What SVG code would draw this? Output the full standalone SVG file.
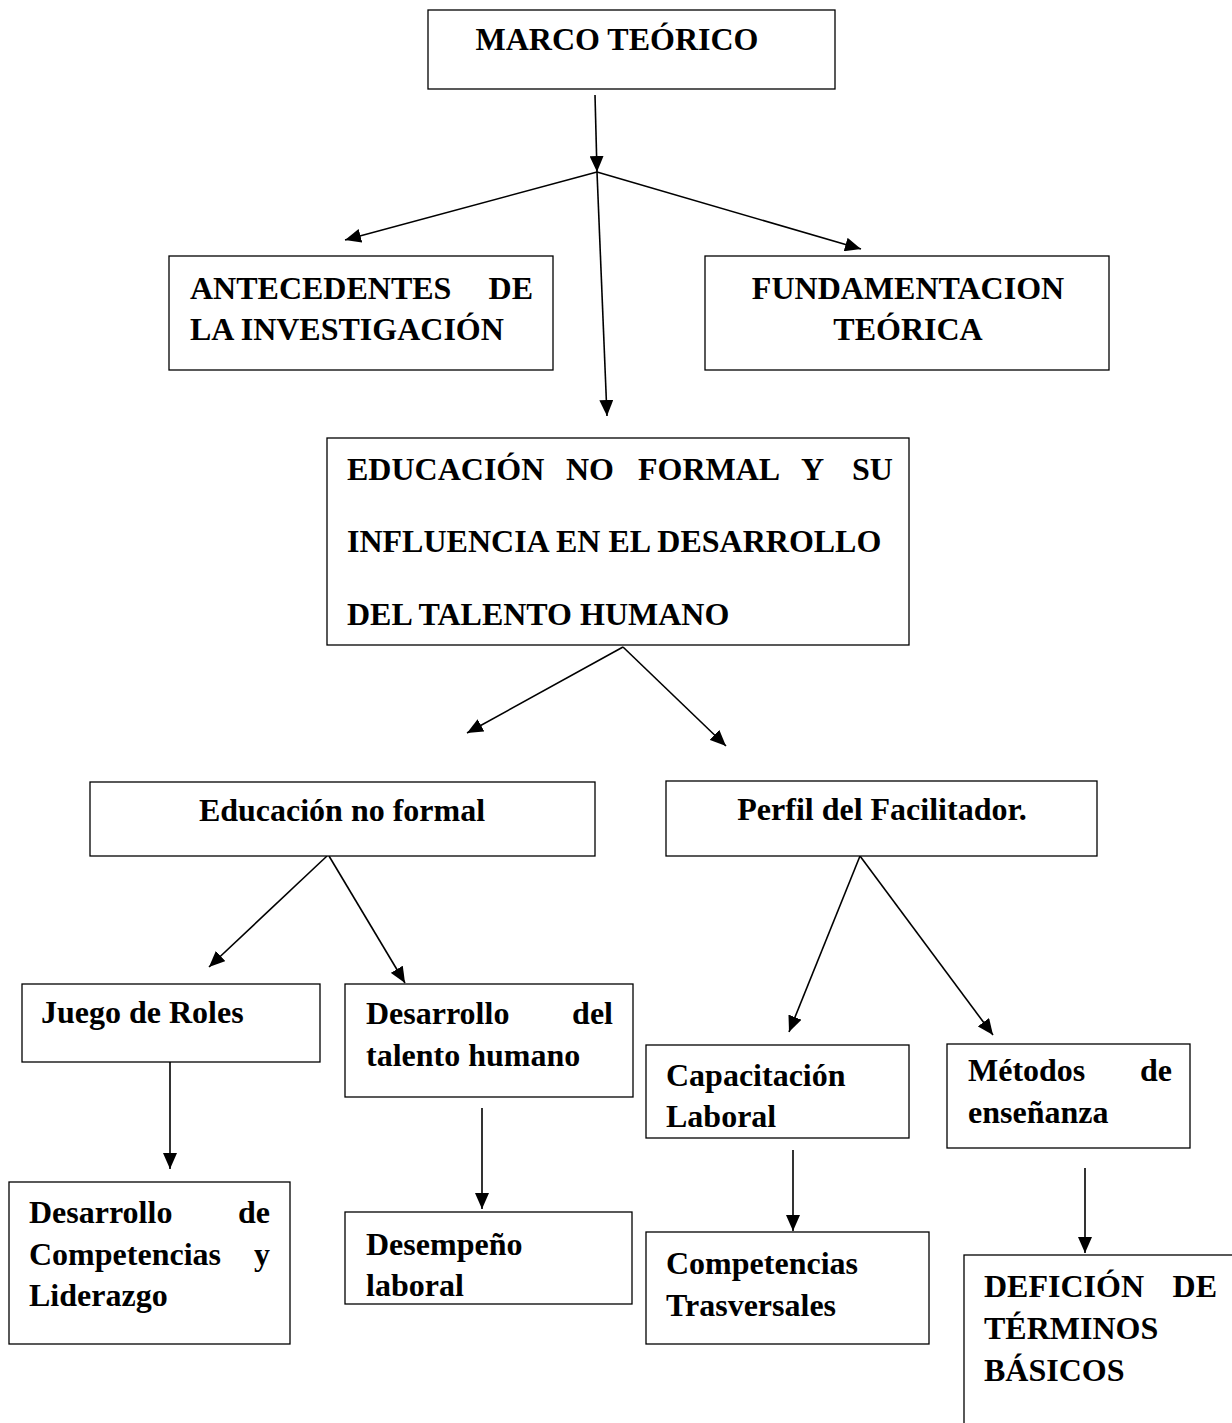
<svg xmlns="http://www.w3.org/2000/svg" width="1232" height="1423" viewBox="0 0 1232 1423">
<style>
.box{fill:#fff;stroke:#000;stroke-width:1.3}
.t{font-family:"Liberation Serif","Times New Roman",serif;font-weight:bold;font-size:32px;fill:#000}
.c{text-anchor:middle}
.e{text-anchor:end}
.ln{stroke:#000;stroke-width:1.6;fill:none;marker-end:url(#ah)}
</style>
<defs>
<marker id="ah" markerUnits="userSpaceOnUse" markerWidth="16" markerHeight="14" refX="16" refY="7" orient="auto">
<path d="M0,0 L16,7 L0,14 Z" fill="#000"/>
</marker>
</defs>
<rect width="1232" height="1423" fill="#fff"/>
<g id="connectors">
<line class="ln" x1="595" y1="95" x2="597" y2="172"/>
<line class="ln" x1="597" y1="172" x2="345" y2="240"/>
<line class="ln" x1="597" y1="172" x2="861" y2="249"/>
<line class="ln" x1="597" y1="172" x2="607" y2="416"/>
<line class="ln" x1="623" y1="647" x2="467" y2="733"/>
<line class="ln" x1="623" y1="647" x2="726" y2="746"/>
<line class="ln" x1="327" y1="856" x2="209" y2="967"/>
<line class="ln" x1="329" y1="856" x2="405" y2="983"/>
<line class="ln" x1="170" y1="1062" x2="170" y2="1169"/>
<line class="ln" x1="482" y1="1108" x2="482" y2="1209"/>
<line class="ln" x1="860" y1="856" x2="789" y2="1032"/>
<line class="ln" x1="860" y1="856" x2="993" y2="1035"/>
<line class="ln" x1="793" y1="1150" x2="793" y2="1231"/>
<line class="ln" x1="1085" y1="1168" x2="1085" y2="1253"/>
</g>
<g id="n-marco">
<rect class="box" x="428" y="10" width="407" height="79"/>
<text class="t c" x="617" y="50">MARCO TEÓRICO</text>
</g>
<g id="n-antecedentes">
<rect class="box" x="169" y="256" width="384" height="114"/>
<text class="t" x="190" y="299">ANTECEDENTES</text>
<text class="t e" x="533" y="299">DE</text>
<text class="t" x="190" y="340">LA INVESTIGACIÓN</text>
</g>
<g id="n-fundamentacion">
<rect class="box" x="705" y="256" width="404" height="114"/>
<text class="t c" x="908" y="299">FUNDAMENTACION</text>
<text class="t c" x="908" y="340">TEÓRICA</text>
</g>
<g id="n-educacion-nf-influencia">
<rect class="box" x="327" y="438" width="582" height="207"/>
<text class="t" y="480"><tspan x="347">EDUCACIÓN</tspan><tspan x="566">NO</tspan><tspan x="638">FORMAL</tspan><tspan x="801">Y</tspan><tspan x="852">SU</tspan></text>
<text class="t" x="347" y="552">INFLUENCIA EN EL DESARROLLO</text>
<text class="t" x="347" y="625">DEL TALENTO HUMANO</text>
</g>
<g id="n-educacion-nf">
<rect class="box" x="90" y="782" width="505" height="74"/>
<text class="t c" x="342" y="821">Educación no formal</text>
</g>
<g id="n-perfil">
<rect class="box" x="666" y="781" width="431" height="75"/>
<text class="t c" x="882" y="820">Perfil del Facilitador.</text>
</g>
<g id="n-juego">
<rect class="box" x="22" y="984" width="298" height="78"/>
<text class="t" x="41" y="1023">Juego de Roles</text>
</g>
<g id="n-desarrollo-talento">
<rect class="box" x="345" y="984" width="288" height="113"/>
<text class="t" x="366" y="1024">Desarrollo</text>
<text class="t e" x="613" y="1024">del</text>
<text class="t" x="366" y="1066">talento humano</text>
</g>
<g id="n-capacitacion">
<rect class="box" x="646" y="1045" width="263" height="93"/>
<text class="t" x="666" y="1086">Capacitación</text>
<text class="t" x="666" y="1127">Laboral</text>
</g>
<g id="n-metodos">
<rect class="box" x="947" y="1044" width="243" height="104"/>
<text class="t" x="968" y="1081">Métodos</text>
<text class="t e" x="1172" y="1081">de</text>
<text class="t" x="968" y="1123">enseñanza</text>
</g>
<g id="n-competencias-liderazgo">
<rect class="box" x="9" y="1182" width="281" height="162"/>
<text class="t" x="29" y="1223">Desarrollo</text>
<text class="t e" x="270" y="1223">de</text>
<text class="t" x="29" y="1265">Competencias</text>
<text class="t e" x="270" y="1265">y</text>
<text class="t" x="29" y="1306">Liderazgo</text>
</g>
<g id="n-desempeno">
<rect class="box" x="345" y="1212" width="287" height="92"/>
<text class="t" x="366" y="1255">Desempeño</text>
<text class="t" x="366" y="1296">laboral</text>
</g>
<g id="n-competencias-trasversales">
<rect class="box" x="646" y="1232" width="283" height="112"/>
<text class="t" x="666" y="1274">Competencias</text>
<text class="t" x="666" y="1316">Trasversales</text>
</g>
<g id="n-deficion">
<rect class="box" x="964" y="1255" width="300" height="200"/>
<text class="t" x="984" y="1297">DEFICIÓN</text>
<text class="t e" x="1217" y="1297">DE</text>
<text class="t" x="984" y="1339">TÉRMINOS</text>
<text class="t" x="984" y="1381">BÁSICOS</text>
</g>
</svg>
